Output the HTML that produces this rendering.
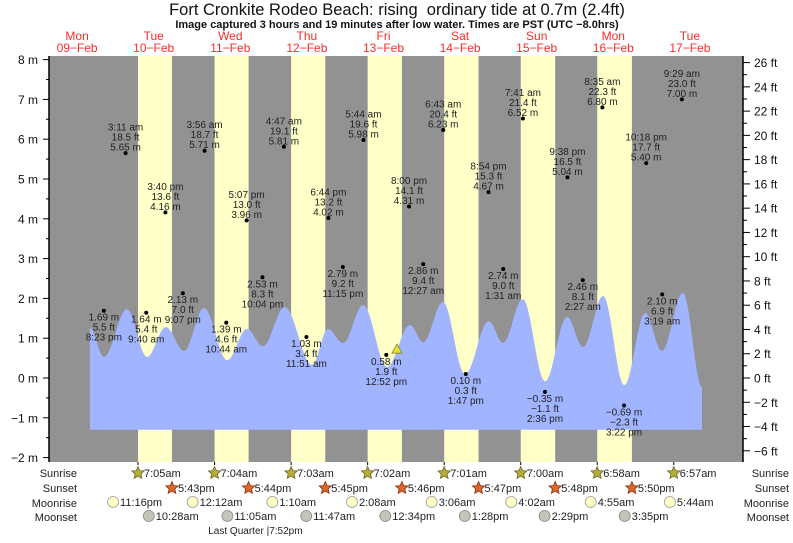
<!DOCTYPE html>
<html><head><meta charset="utf-8"><style>
body{margin:0;background:#fff;}
svg text{font-family:"Liberation Sans",sans-serif;}
</style></head><body>
<svg id="chart" width="793" height="538" viewBox="0 0 793 538" xmlns="http://www.w3.org/2000/svg">
<text x="397" y="15" font-size="16.5" text-anchor="middle" fill="#111">Fort Cronkite Rodeo Beach: rising &#160;ordinary tide at 0.7m (2.4ft)</text>
<text x="397" y="28" font-size="11" font-weight="bold" text-anchor="middle" fill="#111">Image captured 3 hours and 19 minutes after low water. Times are PST (UTC −8.0hrs)</text>
<g id="plot"></g>
</svg>
<script>
// ---- data ----
const dayNames = ["Mon","Tue","Wed","Thu","Fri","Sat","Sun","Mon","Tue"];
const dayDates = ["09−Feb","10−Feb","11−Feb","12−Feb","13−Feb","14−Feb","15−Feb","16−Feb","17−Feb"];
const sunriseHours = [7+5/60,7+4/60,7+3/60,7+2/60,7+1/60,7,6+58/60,6+57/60];
const sunriseLabels = ["7:05am","7:04am","7:03am","7:02am","7:01am","7:00am","6:58am","6:57am"];
const sunsetHours = [17+43/60,17+44/60,17+45/60,17+46/60,17+47/60,17+48/60,17+50/60];
const sunsetLabels = ["5:43pm","5:44pm","5:45pm","5:46pm","5:47pm","5:48pm","5:50pm"];
const moonriseHours = [23+16/60, 48+12/60, 72+1+10/60, 96+2+8/60, 120+3+6/60, 144+4+2/60, 168+4+55/60, 192+5+44/60];
const moonriseLabels = ["11:16pm","12:12am","1:10am","2:08am","3:06am","4:02am","4:55am","5:44am"];
const moonsetHours = [24+10+28/60, 48+11+5/60, 72+11+47/60, 96+12+34/60, 120+13+28/60, 144+14+29/60, 168+15+35/60];
const moonsetLabels = ["10:28am","11:05am","11:47am","12:34pm","1:28pm","2:29pm","3:35pm"];
const quarterHour = 48+19+52/60;
const tideHours = [20+23/60, 24+3+11/60, 24+9+40/60, 24+15+40/60, 24+21+7/60,
 48+3+56/60, 48+10+44/60, 48+17+7/60, 48+22+4/60,
 72+4+47/60, 72+11+51/60, 72+18+44/60, 72+23+15/60,
 96+5+44/60, 96+12+52/60, 96+20, 120+27/60,
 120+6+43/60, 120+13+47/60, 120+20+54/60, 144+1+31/60,
 144+7+41/60, 144+14+36/60, 144+21+38/60, 168+2+27/60,
 168+8+35/60, 168+15+22/60, 168+22+18/60, 192+3+19/60, 192+9+29/60];
const tideHeights = [1.69,5.65,1.64,4.16,2.13,5.71,1.39,3.96,2.53,5.81,1.03,4.02,2.79,5.98,0.58,4.31,2.86,6.23,0.10,4.67,2.74,6.52,-0.35,5.04,2.46,6.80,-0.69,5.40,2.10,7.00];
const tideTimes = ["8:23 pm","3:11 am","9:40 am","3:40 pm","9:07 pm","3:56 am","10:44 am","5:07 pm","10:04 pm","4:47 am","11:51 am","6:44 pm","11:15 pm","5:44 am","12:52 pm","8:00 pm","12:27 am","6:43 am","1:47 pm","8:54 pm","1:31 am","7:41 am","2:36 pm","9:38 pm","2:27 am","8:35 am","3:22 pm","10:18 pm","3:19 am","9:29 am"];
const curveHours = [16.0,20.4,27.6,33.9,39.8,45.5,51.7,59.0,65.2,70.2,77.0,85.6,90.6,95.3,101.6,109.1,116.3,120.4,126.6,133.5,141.0,145.4,151.6,158.6,165.5,170.5,176.8,183.4,190.0,195.2,201.8,207.8];
const curveHeights = [1.26,0.53,1.73,0.53,1.28,0.68,1.76,0.45,1.23,0.80,1.78,0.33,1.23,0.88,1.83,0.28,1.33,0.90,1.91,0.10,1.43,0.88,1.98,-0.08,1.53,0.78,2.06,-0.18,1.63,0.68,2.14,-0.23];
const currentHeight = 0.7, currentHour = 96+16+13/60;
const mTicks = [8,7,6,5,4,3,2,1,0,-1,-2];
const ftTicks = [26,24,22,20,18,16,14,12,10,8,6,4,2,0,-2,-4,-6];

// ---- scales ----
const PX_PER_DAY = 76.6, X0 = 38.8;
const xOf = h => X0 + h/24*PX_PER_DAY;
const yOf = m => 378 - m*39.8;
const yFt = f => yOf(f*0.3048);
const L=49, R=743, T=56, B=462;

const NS="http://www.w3.org/2000/svg";
const g=document.getElementById('plot');
function mk(tag, attrs, parent){const e=document.createElementNS(NS,tag);for(const k in attrs)e.setAttribute(k,attrs[k]);(parent||g).appendChild(e);return e;}
function txt(x,y,s,attrs){const e=mk('text',Object.assign({x:x,y:y},attrs||{}));e.textContent=s;return e;}

let bg=mk('rect',{x:L,y:T,width:R-L,height:B-T,fill:'#929292'});


for(let i=0;i<sunsetHours.length;i++){
  const x1=xOf(24*(i+1)+sunriseHours[i]), x2=xOf(24*(i+1)+sunsetHours[i]);
  const r=mk('rect',{x:x1,y:T,width:x2-x1,height:B-T,fill:'#ffffc8'});
  
  
}
function curveAt(h){
  for(let i=0;i<curveHours.length-1;i++){
    if(h>=curveHours[i]&&h<=curveHours[i+1]){
      const t=(h-curveHours[i])/(curveHours[i+1]-curveHours[i]);
      const k=(1-Math.cos(Math.PI*t))/2;
      return curveHeights[i]+(curveHeights[i+1]-curveHeights[i])*k;
    }
  }
  return null;
}
const yBase=yOf(-1.3);
let d='M'+xOf(curveHours[0]).toFixed(1)+' '+yBase;
const xs=xOf(curveHours[0]), xe=xOf(curveHours[curveHours.length-1]);
for(let x=xs;x<=xe;x+=1){const h=(x-X0)/PX_PER_DAY*24;d+=' L'+x.toFixed(1)+' '+yOf(curveAt(h)).toFixed(1);}
d+=' L'+xe.toFixed(1)+' '+yOf(curveAt(curveHours[curveHours.length-1])).toFixed(1)+' L'+xe.toFixed(1)+' '+yBase+' Z';
let wp=mk('path',{d:d,fill:'#a0b4ff'});



let la=mk('line',{x1:L,y1:T,x2:L,y2:B,stroke:'#000','stroke-width':1.5});


let ra=mk('line',{x1:R,y1:T,x2:R,y2:B,stroke:'#000','stroke-width':1.5});


for(let m=8;m>=-2;m-=0.5){mk('line',{x1:m%1===0?43:46,y1:yOf(m),x2:L,y2:yOf(m),stroke:'#000'});}
mTicks.forEach(m=>{const t=txt(38,yOf(m)+4.5,(m<0?'−'+(-m):m)+' m',{'font-size':12,'text-anchor':'end',fill:'#111'});
  
  });
for(let f=26;f>=-6;f-=1){mk('line',{x1:R,y1:yFt(f),x2:f%2===0?750:747,y2:yFt(f),stroke:'#000'});}
ftTicks.forEach(f=>{const t=txt(754,yFt(f)+4.5,(f<0?'−'+(-f):f)+' ft',{'font-size':12,fill:'#111'});
  
  });

dayNames.forEach((n,i)=>{const x=xOf(24*i+12);
  const a=txt(x,40,n,{'font-size':12,'text-anchor':'middle',fill:'#ff2a2a'});
  
  
  const b=txt(x,52,dayDates[i],{'font-size':12,'text-anchor':'middle',fill:'#ff2a2a'});
  
  });

tideHours.forEach((h,i)=>{
  const x=xOf(h), y=yOf(tideHeights[i]);
  const c=mk('circle',{cx:x,cy:y,r:2,fill:'#000'});
  
  
  const m=tideHeights[i].toFixed(2).replace('-','−')+' m';
  const ft=(tideHeights[i]/0.3048).toFixed(1).replace('-','−')+' ft';
  const high = i%2===1;
  const lines = high?[tideTimes[i],ft,m]:[m,ft,tideTimes[i]];
  const offs = high?[-22.5,-12.5,-2.5]:[10,20,30];
  lines.forEach((s,j)=>{const t=txt(x,y+offs[j],s,{'font-size':10,'text-anchor':'middle',fill:'#222'});
    
    });
});
const cx=xOf(currentHour), cy=yOf(currentHeight);
let tri=mk('polygon',{points:(cx-5)+','+(cy+3)+' '+(cx+5)+','+(cy+3)+' '+cx+','+(cy-6),fill:'#e8e030',stroke:'#807800','stroke-width':0.7});



[['Sunrise',477],['Sunset',492],['Moonrise',507],['Moonset',521]].forEach(r=>{
  const t=txt(77,r[1],r[0],{'font-size':11,'text-anchor':'end',fill:'#222'});
  
  
  const t2=txt(789,r[1],r[0],{'font-size':11,'text-anchor':'end',fill:'#222'});
  
  
});
function star(x,y,fill,stroke){
  let p='';for(let k=0;k<10;k++){const a=-Math.PI/2+k*Math.PI/5, r=k%2?3:6.5;p+=(x+r*Math.cos(a)).toFixed(1)+','+(y+r*Math.sin(a)).toFixed(1)+' ';}
  return mk('polygon',{points:p,fill:fill,stroke:stroke,'stroke-width':0.8});
}
sunriseHours.forEach((h,i)=>{const x=xOf(24*(i+1)+h);
  mk('line',{x1:x,y1:B,x2:x,y2:B+3,stroke:'#000'});
  const s=star(x,473,'#b4ae3a','#6b6420');
  
  
  const t=txt(x+6,477,sunriseLabels[i],{'font-size':11,fill:'#222'});
  
  });
sunsetHours.forEach((h,i)=>{const x=xOf(24*(i+1)+h);
  const s=star(x,488,'#e0662a','#8a3010');
  
  
  const t=txt(x+6,492,sunsetLabels[i],{'font-size':11,fill:'#222'});
  
  });
moonriseHours.forEach((h,i)=>{const x=xOf(h);
  const c=mk('circle',{cx:x,cy:502,r:5.5,fill:'#ffffc8',stroke:'#999','stroke-width':0.8});
  
  
  const t=txt(x+7,506,moonriseLabels[i],{'font-size':11,fill:'#222'});
  
  });
moonsetHours.forEach((h,i)=>{const x=xOf(h);
  const c=mk('circle',{cx:x,cy:516,r:5.5,fill:'#c4c4b8',stroke:'#888','stroke-width':0.8});
  
  
  const t=txt(x+7,520,moonsetLabels[i],{'font-size':11,fill:'#222'});
  
  });
const qx=xOf(quarterHour);
let q=txt(qx,534,'Last Quarter |7:52pm',{'font-size':10,'text-anchor':'middle',fill:'#222'});


</script>
</body></html>
